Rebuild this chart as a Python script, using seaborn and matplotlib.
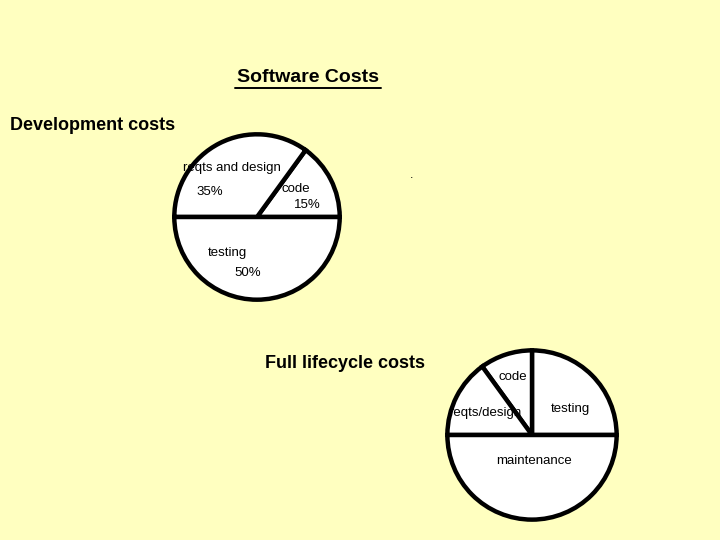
import matplotlib
matplotlib.use("Agg")
import matplotlib.pyplot as plt
import seaborn as sns
from matplotlib.lines import Line2D

sns.set_theme(style="white")
plt.rcParams['font.family'] = ['Liberation Sans', 'DejaVu Sans']

BG = "#FFFFC0"

# Data
dev_labels = ["code", "reqts and design", "testing"]
dev_shares = [15, 35, 50]
life_labels = ["testing", "code", "reqts/design", "maintenance"]
life_shares = [25, 10, 15, 50]

W, H = 720, 540
fig = plt.figure(figsize=(7.2, 5.4), dpi=100, facecolor=BG)

def px_axes(cx, cy, r):
    return fig.add_axes([(cx - r) / W, (H - cy - r) / H, 2 * r / W, 2 * r / H])

def ftext(x, y, s, **kw):
    fig.text(x / W, 1 - y / H, s, **kw)

wp = dict(edgecolor="black", linewidth=3.2)

ax1 = px_axes(257, 217, 86)
ax1.pie(dev_shares, startangle=0, counterclock=True, colors=["white"] * 3,
        wedgeprops=wp, radius=1)
ax1.set_xlim(-1.04, 1.04); ax1.set_ylim(-1.04, 1.04)
ax1.set_aspect("equal"); ax1.axis("off")

ax2 = px_axes(532, 435, 88)
ax2.pie(life_shares, startangle=0, counterclock=True, colors=["white"] * 4,
        wedgeprops=wp, radius=1)
ax2.set_xlim(-1.04, 1.04); ax2.set_ylim(-1.04, 1.04)
ax2.set_aspect("equal"); ax2.axis("off")

# Titles
ftext(308, 78, "Software Costs", fontsize=14, fontweight="bold",
      ha="center", va="center", color="black")
fig.add_artist(Line2D([235 / W, 381 / W], [1 - 88 / H, 1 - 88 / H],
                      color="black", linewidth=1.4, transform=fig.transFigure))
ftext(10, 125, "Development costs", fontsize=13, fontweight="bold",
      ha="left", va="center", color="black")
ftext(345, 363, "Full lifecycle costs", fontsize=13, fontweight="bold",
      ha="center", va="center", color="black")
ftext(412, 175, ".", fontsize=9, ha="center", va="center", color="black")

# Development pie labels
fs = 9.5
ftext(232, 168, dev_labels[1], fontsize=fs, ha="center", va="center", color="black")
ftext(210, 192, f"{dev_shares[1]}%", fontsize=fs, ha="center", va="center", color="black")
ftext(296, 189, dev_labels[0], fontsize=fs, ha="center", va="center", color="black")
ftext(307, 205, f"{dev_shares[0]}%", fontsize=fs, ha="center", va="center", color="black")
ftext(227, 253, dev_labels[2], fontsize=fs, ha="center", va="center", color="black")
ftext(248, 273, f"{dev_shares[2]}%", fontsize=fs, ha="center", va="center", color="black")

# Lifecycle pie labels
ftext(513, 377, life_labels[1], fontsize=fs, ha="center", va="center", color="black")
ftext(570, 409, life_labels[0], fontsize=fs, ha="center", va="center", color="black")
ftext(485, 413, life_labels[2], fontsize=fs, ha="center", va="center", color="black")
ftext(534, 461, life_labels[3], fontsize=fs, ha="center", va="center", color="black")

fig.savefig("out.png", dpi=100, facecolor=BG)
